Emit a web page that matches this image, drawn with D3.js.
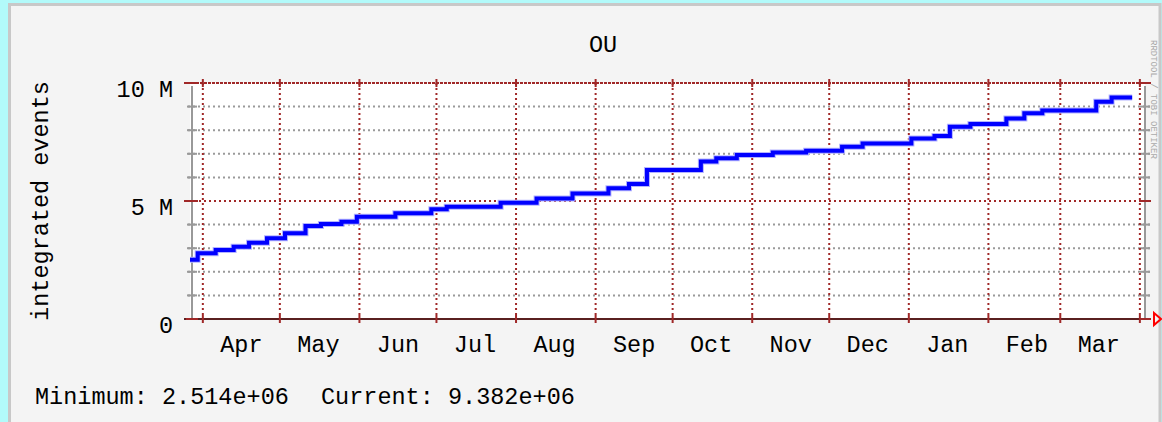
<!DOCTYPE html>
<html>
<head>
    <script src="https://d3js.org/d3.v7.min.js"></script>
    <style>
        body { margin: 0; background: #b2fafa; }
        svg text {
            font-family: "Liberation Mono", "DejaVu Sans Mono", monospace;
            font-size: 23.5px;
            fill: #000;
        }
        .minor { stroke: #9a9a9a; stroke-width: 2px; stroke-dasharray: 2,3; }
        .major { stroke: #a02828; stroke-width: 2px; stroke-dasharray: 2,3; }
    </style>
</head>
<body>
    <div id="chart"></div>

    <script>
        // Step points of the integrated count (millions)
        const stepDates = [
            "2010-03-27", "2010-03-30", "2010-04-06", "2010-04-13", "2010-04-19",
            "2010-04-26", "2010-05-03", "2010-05-11", "2010-05-17", "2010-05-25",
            "2010-05-31", "2010-06-15", "2010-06-29", "2010-07-05", "2010-07-26",
            "2010-08-09", "2010-08-23", "2010-09-06", "2010-09-14", "2010-09-21",
            "2010-10-12", "2010-10-18", "2010-10-26", "2010-11-09", "2010-11-22",
            "2010-12-06", "2010-12-14", "2011-01-02", "2011-01-11", "2011-01-17",
            "2011-01-25", "2011-02-08", "2011-02-15", "2011-02-22", "2011-03-15",
            "2011-03-21", "2011-03-29"
        ];
        const stepValues = [
            2.514, 2.79, 2.92, 3.06, 3.23,
            3.42, 3.63, 3.94, 4.03, 4.12,
            4.33, 4.48, 4.65, 4.76, 4.93,
            5.11, 5.32, 5.54, 5.72, 6.31,
            6.67, 6.81, 6.95, 7.05, 7.13,
            7.30, 7.44, 7.65, 7.75, 8.15,
            8.26, 8.50, 8.72, 8.83, 9.21,
            9.382, 9.382
        ];
        const monthLabels = ["Apr", "May", "Jun", "Jul", "Aug", "Sep", "Oct", "Nov", "Dec", "Jan", "Feb", "Mar"];
        const majorTicks = [0, 5e6, 10e6];
        const majorLabels = ["0", "5 M", "10 M"];
        const minorTicks = [1e6, 2e6, 3e6, 4e6, 6e6, 7e6, 8e6, 9e6];

        const W = 1162, H = 422;
        const pLeft = 190, pRight = 1145, pTop = 83, pBottom = 319;
        const parse = d3.timeParse("%Y-%m-%d");

        const svg = d3.select("#chart").append("svg")
            .attr("width", W).attr("height", H)
            .style("display", "block");

        // background panel
        svg.append("rect").attr("width", W).attr("height", H).attr("fill", "#b2fafa");
        svg.append("rect")
            .attr("x", 9.5).attr("y", 4.5)
            .attr("width", 1160 - 9.5).attr("height", H)
            .attr("fill", "#f4f4f4")
            .attr("stroke", "#c8c8c8").attr("stroke-width", 3);

        const x = d3.scaleTime()
            .domain([parse("2010-03-27"), parse("2011-04-03")])
            .range([pLeft, pRight]);
        const y = d3.scaleLinear().domain([0, 10e6]).range([pBottom, pTop]);

        svg.append("rect")
            .attr("x", pLeft).attr("y", pTop)
            .attr("width", pRight - pLeft).attr("height", pBottom - pTop)
            .attr("fill", "#fff");

        const months = d3.timeMonth.range(parse("2010-04-01"), parse("2011-04-02"));

        // minor horizontal grid
        minorTicks.forEach(v => {
            svg.append("line").attr("class", "minor")
                .attr("x1", pLeft - 2).attr("x2", pRight + 6)
                .attr("y1", y(v)).attr("y2", y(v));
            [pLeft + 2, pRight].forEach(ax => {
                svg.append("line")
                    .attr("x1", ax - 5).attr("x2", ax + 5)
                    .attr("y1", y(v)).attr("y2", y(v))
                    .attr("stroke", "#9a9a9a").attr("stroke-width", 2);
            });
        });

        // vertical month grid
        months.forEach(m => {
            svg.append("line").attr("class", "major")
                .attr("x1", x(m)).attr("x2", x(m))
                .attr("y1", pTop).attr("y2", pBottom);
        });

        // left / right axes
        svg.append("line")
            .attr("x1", pLeft + 2).attr("x2", pLeft + 2)
            .attr("y1", pTop + 3).attr("y2", pBottom)
            .attr("stroke", "#999").attr("stroke-width", 2);
        svg.append("line")
            .attr("x1", pRight).attr("x2", pRight)
            .attr("y1", pTop + 3).attr("y2", pBottom)
            .attr("stroke", "#999").attr("stroke-width", 2);

        // major horizontal grid
        majorTicks.forEach(v => {
            const yy = y(v);
            if (v === 0) {
                svg.append("line")
                    .attr("x1", pLeft - 6).attr("x2", pRight + 6)
                    .attr("y1", yy).attr("y2", yy)
                    .attr("stroke", "#5a2020").attr("stroke-width", 2);
            } else {
                svg.append("line").attr("class", "major")
                    .attr("x1", pLeft - 6).attr("x2", pRight + 6)
                    .attr("y1", yy).attr("y2", yy)
                    .style("stroke-dasharray", v === 10e6 ? "3,1" : "2,3");
            }
            [pLeft + 2, pRight].forEach(ax => {
                svg.append("line")
                    .attr("x1", ax - 6).attr("x2", ax + 6)
                    .attr("y1", yy).attr("y2", yy)
                    .attr("stroke", "#a02828").attr("stroke-width", 2);
            });
        });

        // month ticks on top and bottom
        months.forEach(m => {
            [pTop, pBottom].forEach(yy => {
                svg.append("line")
                    .attr("x1", x(m)).attr("x2", x(m))
                    .attr("y1", yy - 4).attr("y2", yy + 4)
                    .attr("stroke", "#a02828").attr("stroke-width", 2);
            });
        });

        // arrow at end of x axis
        svg.append("path")
            .attr("d", `M${pRight + 9},${pBottom - 6}L${pRight + 16},${pBottom}L${pRight + 9},${pBottom + 6}Z`)
            .attr("fill", "none").attr("stroke", "#ff0000").attr("stroke-width", 2);

        // data line
        const pts = stepDates.map((d, i) => [parse(d), stepValues[i] * 1e6]);
        const line = d3.line()
            .x(d => x(d[0])).y(d => y(d[1]))
            .curve(d3.curveStepAfter);
        svg.append("path").datum(pts)
            .attr("d", line)
            .attr("fill", "none").attr("stroke", "#b4b4ff").attr("stroke-width", 6);
        svg.append("path").datum(pts)
            .attr("d", line)
            .attr("fill", "none").attr("stroke", "#0000ff").attr("stroke-width", 4);

        // y tick labels
        majorTicks.forEach((v, i) => {
            svg.append("text")
                .attr("x", 173).attr("y", y(v) + 14)
                .attr("text-anchor", "end")
                .text(majorLabels[i]);
        });

        // x labels at middle of each month
        months.slice(0, 12).forEach((m, i) => {
            const mid = d3.timeDay.offset(m, 15);
            svg.append("text")
                .attr("x", x(mid)).attr("y", 352)
                .attr("text-anchor", "middle")
                .text(monthLabels[i]);
        });

        // title
        svg.append("text")
            .attr("x", 603).attr("y", 52)
            .attr("text-anchor", "middle")
            .text("OU");

        // y axis label
        svg.append("text")
            .attr("transform", "translate(48,201) rotate(-90)")
            .attr("text-anchor", "middle")
            .text("integrated events");

        // legend
        svg.append("text").attr("x", 35).attr("y", 404).text("Minimum: 2.514e+06");
        svg.append("text").attr("x", 321).attr("y", 404).text("Current: 9.382e+06");

        // watermark
        svg.append("text")
            .attr("transform", "translate(1151,40) rotate(90)")
            .style("font-size", "9px").style("fill", "#aaa")
            .text("RRDTOOL / TOBI OETIKER");
    </script>
</body>
</html>
